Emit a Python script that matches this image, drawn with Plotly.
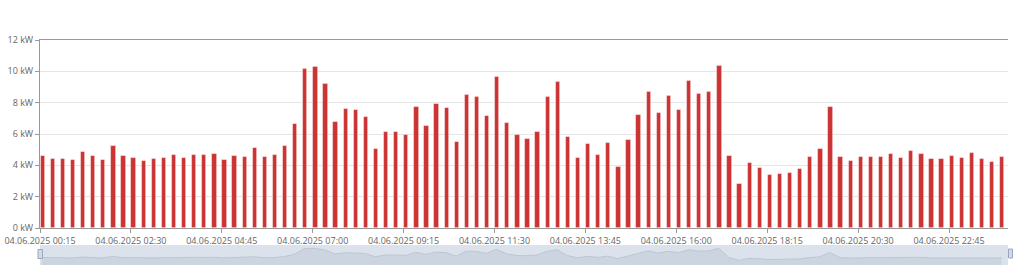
import pandas as pd
import plotly.graph_objects as go

# ---- data ----
start_time = "2025-06-04 00:15"
interval = "15min"
power_kw = [
    4.62, 4.43, 4.40, 4.36, 4.87, 4.62, 4.32, 5.26, 4.57, 4.49,
    4.30, 4.38, 4.49, 4.66, 4.47, 4.68, 4.64, 4.74, 4.34, 4.60,
    4.53, 5.08, 4.53, 4.64, 5.23, 6.64, 10.15, 10.26, 9.21, 6.77,
    7.57, 7.53, 7.09, 5.04, 6.15, 6.11, 5.94, 7.74, 6.51, 7.94,
    7.64, 5.49, 8.49, 8.34, 7.15, 9.64, 6.70, 5.94, 5.68, 6.13,
    8.38, 9.34, 5.81, 4.49, 5.36, 4.66, 5.43, 3.89, 5.60, 7.21,
    8.70, 7.34, 8.43, 7.51, 9.40, 8.57, 8.66, 10.32, 4.60, 2.83,
    4.13, 3.83, 3.40, 3.45, 3.49, 3.77, 4.51, 5.04, 7.70, 4.51,
    4.26, 4.53, 4.53, 4.53, 4.70, 4.49, 4.91, 4.74, 4.38, 4.38,
    4.57, 4.49, 4.79, 4.38, 4.23, 4.51,
]
times = pd.date_range(start_time, periods=len(power_kw), freq=interval)

x_tick_labels = [
    "04.06.2025 00:15", "04.06.2025 02:30", "04.06.2025 04:45",
    "04.06.2025 07:00", "04.06.2025 09:15", "04.06.2025 11:30",
    "04.06.2025 13:45", "04.06.2025 16:00", "04.06.2025 18:15",
    "04.06.2025 20:30", "04.06.2025 22:45",
]
y_tick_values = [0, 2, 4, 6, 8, 10, 12]
y_tick_labels = ["0 kW", "2 kW", "4 kW", "6 kW", "8 kW", "10 kW", "12 kW"]

x_tick_vals = [pd.to_datetime(s, format="%d.%m.%Y %H:%M") for s in x_tick_labels]
x_range = [pd.Timestamp("2025-06-04 00:15"), pd.Timestamp("2025-06-05 00:12:36")]

FONT = "Open Sans"
TXT = "#666666"
AXIS = "#999999"

fig = go.Figure()

fig.add_trace(go.Bar(
    x=times, y=power_kw,
    offset=45000, width=383000,
    marker=dict(color="#cc3333", line=dict(color="rgba(255,255,255,0.45)", width=0.8)),
    xaxis="x", yaxis="y", showlegend=False,
))

# navigator area
fig.add_trace(go.Scatter(
    x=times + pd.Timedelta(minutes=3), y=power_kw, mode="lines",
    line=dict(color="#bcc6d5", width=1), fill="tozeroy", fillcolor="#ccd4e0",
    xaxis="x2", yaxis="y2", showlegend=False, hoverinfo="skip",
))

fig.update_layout(
    width=1024, height=269,
    margin=dict(l=40, r=16, t=40, b=4, autoexpand=False),
    paper_bgcolor="white", plot_bgcolor="white",
    font=dict(family=FONT, size=9, color=TXT),
    showlegend=False,
    bargap=0,
    xaxis=dict(
        type="date", range=x_range, domain=[0, 1], anchor="y", automargin=False,
        tickvals=x_tick_vals, ticktext=x_tick_labels,
        showgrid=False, zeroline=False,
        showline=True, linecolor=AXIS, linewidth=1, mirror=True,
        ticks="outside", ticklen=4, tickcolor=AXIS,
        tickfont=dict(family=FONT, size=9, color=TXT),
    ),
    yaxis=dict(
        range=[0, 12], domain=[37 / 225, 1], anchor="x", automargin=False,
        tickvals=y_tick_values, ticktext=y_tick_labels,
        showgrid=True, gridcolor="#e6e6e6", gridwidth=1, zeroline=False,
        showline=True, linecolor=AXIS, linewidth=1,
        ticks="outside", ticklen=4, tickcolor=AXIS,
        tickfont=dict(family=FONT, size=9, color=TXT),
    ),
    xaxis2=dict(
        type="date", range=x_range, domain=[0, 1], anchor="y2", automargin=False,
        visible=False, showgrid=False,
    ),
    yaxis2=dict(
        range=[0, 12.3], domain=[0, 20 / 225], anchor="x2", automargin=False,
        visible=False, showgrid=False,
    ),
    shapes=[
        dict(type="rect", xref="x2 domain", yref="y2 domain", x0=0, x1=1, y0=0, y1=1,
             fillcolor="#dce2eb", line=dict(width=0), layer="below"),
        dict(type="rect", xref="paper", yref="paper",
             x0=-2.0 / 968, x1=2.5 / 968, y0=6.5 / 225, y1=15.5 / 225,
             fillcolor="#d3dae5", line=dict(color="#9aa8bf", width=1)),
        dict(type="rect", xref="paper", yref="paper",
             x0=968.5 / 968, x1=972.5 / 968, y0=7 / 225, y1=16 / 225,
             fillcolor="#d3dae5", line=dict(color="#9aa8bf", width=1)),
    ],
)

fig.write_html("out.html")
